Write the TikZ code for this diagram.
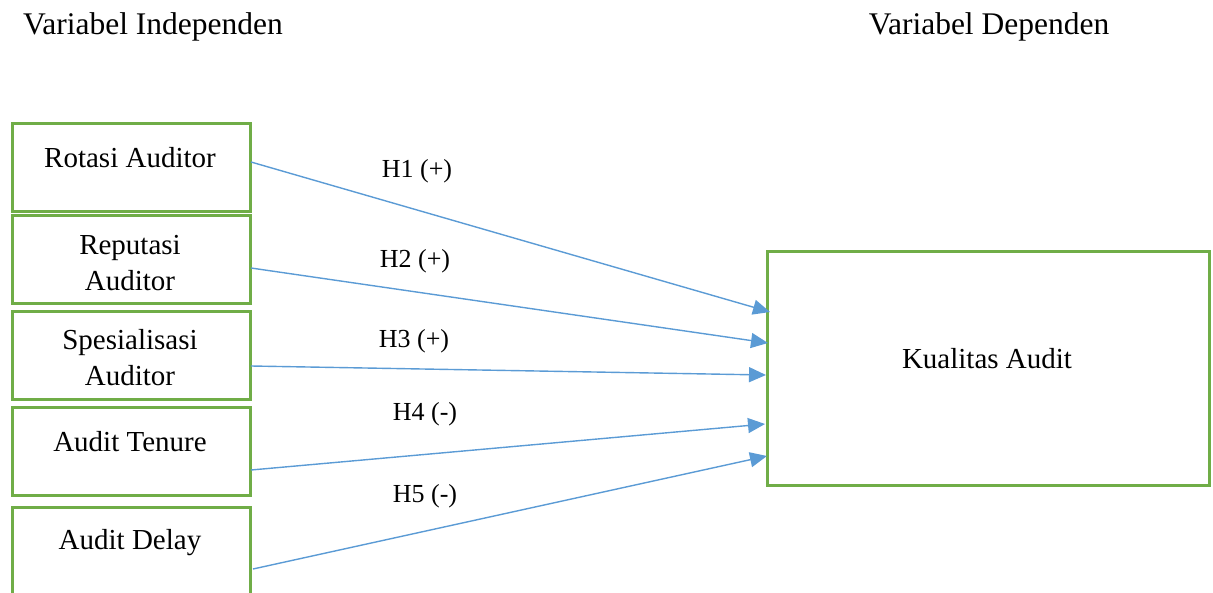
\documentclass[tikz,border=0pt]{standalone}
\usepackage{fontspec}
\setmainfont{Liberation Serif}
\usetikzlibrary{arrows.meta,calc}
\definecolor{boxgreen}{HTML}{70AD47}
\definecolor{arrowblue}{HTML}{5B9BD5}
\begin{document}
\begin{tikzpicture}[x=1pt,y=-1pt,
  varbox/.style={draw=boxgreen,line width=3pt,inner sep=0pt,anchor=north west},
  boxtext/.style={font=\fontsize{29}{36}\selectfont,align=center,inner sep=0pt},
  headtext/.style={font=\fontsize{31.5}{36}\selectfont,inner sep=0pt},
  hyp/.style={font=\fontsize{26}{30}\selectfont,inner sep=0pt},
  link/.style={draw=arrowblue,line width=1.4pt,-{Triangle[length=17pt,width=15pt]}}]
\useasboundingbox (0,0) rectangle (1213,592);
\begin{scope}
\clip (0,0) rectangle (1213,592);
% headers
\node[headtext] (hi) at (153,27) {Variabel Independen};
\node[headtext] (hd) at (989,27) {Variabel Dependen};
% independent boxes
\node[varbox,minimum width=238pt,minimum height=88pt] (b1) at (11,122) {};
\node[varbox,minimum width=238pt,minimum height=88pt] (b2) at (11,214) {};
\node[varbox,minimum width=238pt,minimum height=88pt] (b3) at (11,310) {};
\node[varbox,minimum width=238pt,minimum height=88pt] (b4) at (11,406) {};
\node[varbox,minimum width=238pt,minimum height=100pt] (b5) at (11,506) {};
\node[boxtext] (t1) at (130,158) {Rotasi Auditor};
\node[boxtext] (t2) at (130,263) {Reputasi\\Auditor};
\node[boxtext] (t3) at (130,358) {Spesialisasi\\Auditor};
\node[boxtext] (t4) at (130,442) {Audit Tenure};
\node[boxtext] (t5) at (130,543) {Audit Delay};
% dependent box
\node[varbox,minimum width=442pt,minimum height=234pt] (k) at (766,250) {};
\node[boxtext] (kt) at (987,359) {Kualitas Audit};
% arrow endpoints
\coordinate (s1) at (251,162);
\coordinate (s2) at (251,268);
\coordinate (s3) at (251,366);
\coordinate (s4) at (251,470);
\coordinate (s5) at (253,569);
\coordinate (e1) at (770,312);
\coordinate (e2) at (768,343);
\coordinate (e3) at (766,375);
\coordinate (e4) at (765,424);
\coordinate (e5) at (767,456);
\draw[link] (s1) -- (e1);
\draw[link] (s2) -- (e2);
\draw[link] (s3) -- (e3);
\draw[link] (s4) -- (e4);
\draw[link] (s5) -- (e5);
% hypothesis labels
\node[hyp] (h1) at (417,171) {H1 (+)};
\node[hyp] (h2) at (415,261) {H2 (+)};
\node[hyp] (h3) at (414,341) {H3 (+)};
\node[hyp] (h4) at (425,414) {H4 (-)};
\node[hyp] (h5) at (425,496) {H5 (-)};
\end{scope}
\end{tikzpicture}
\end{document}
